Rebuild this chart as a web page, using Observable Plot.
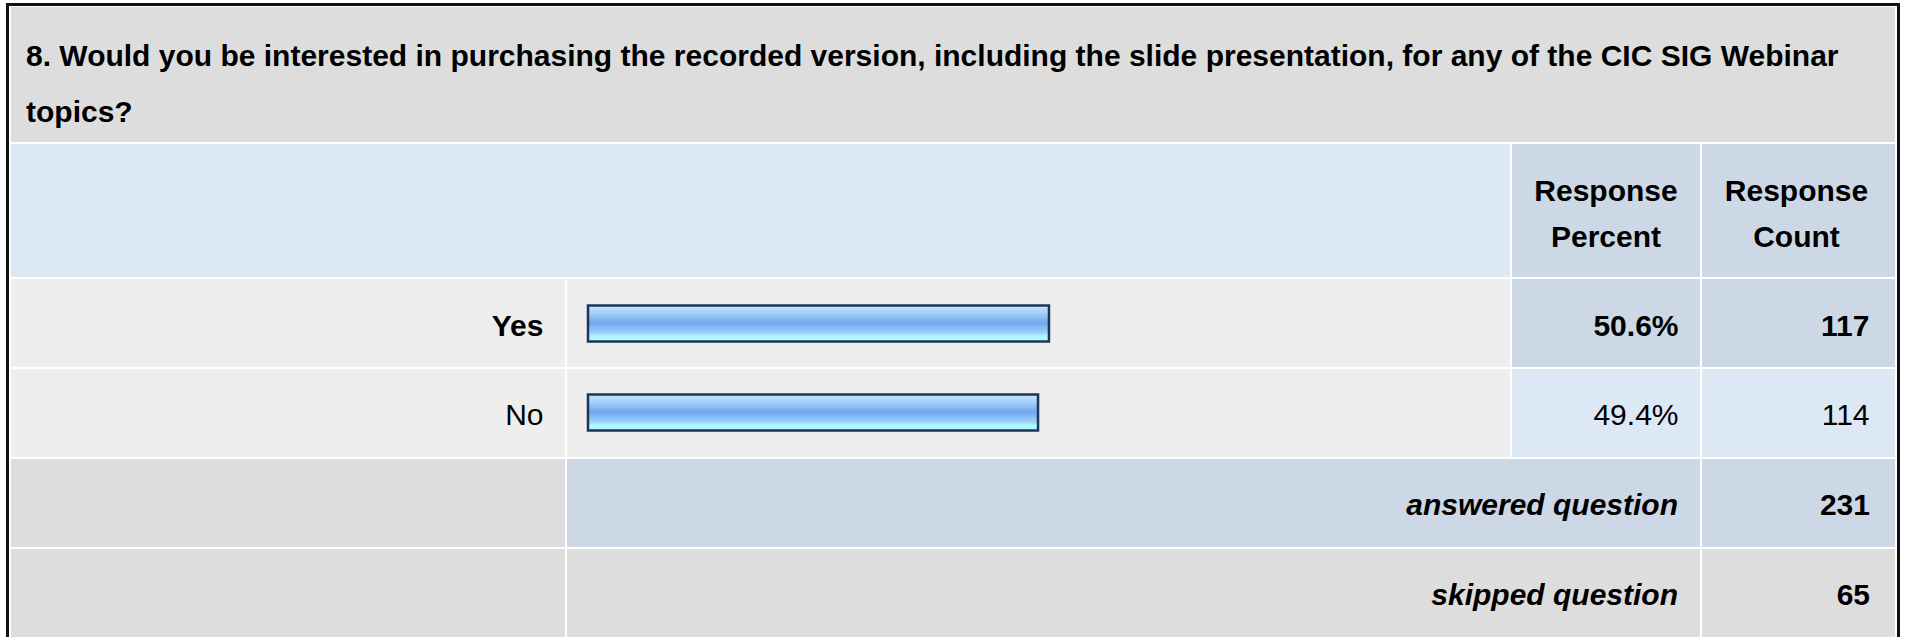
<!DOCTYPE html>
<html><head><meta charset="utf-8">
<script src="https://cdn.jsdelivr.net/npm/d3@7"></script>
<script src="https://cdn.jsdelivr.net/npm/@observablehq/plot@0.6"></script>
<style>
html,body{margin:0;padding:0;background:#fff;}
#root{position:relative;width:1907px;height:637px;overflow:hidden;font-family:"Liberation Sans",Arial,sans-serif;color:#000;}
.cell{position:absolute;box-sizing:border-box;}
.txt{position:absolute;font-size:30px;white-space:nowrap;}
.flex{display:flex;align-items:center;justify-content:flex-end;font-size:30px;white-space:nowrap;padding-top:3px;}
</style></head><body><div id="root"></div>
<script>
// ---- data ----
const questionTitle = "8. Would you be interested in purchasing the recorded version, including the slide presentation, for any of the CIC SIG Webinar topics?";
const columnHeaders = [["Response", "Percent"], ["Response", "Count"]];
const answers = ["Yes", "No"];
const percents = [50.6, 49.4];
const counts = [117, 114];
const summaryLabels = ["answered question", "skipped question"];
const summaryCounts = [231, 65];

// ---- layout ----
const GREY = "#dddddd", LIGHT = "#eeeeee", BLUE1 = "#dde8f5", BLUE2 = "#cdd8e6";
const root = document.getElementById("root");
function div(cls, x, y, w, h, bg, extra) {
  const d = document.createElement("div");
  d.className = cls;
  d.style.left = x + "px"; d.style.top = y + "px";
  if (w != null) d.style.width = w + "px";
  if (h != null) d.style.height = h + "px";
  if (bg) d.style.background = bg;
  if (extra) Object.assign(d.style, extra);
  root.appendChild(d);
  return d;
}
const RIGHT = 1895; // inner right edge of cells
// outer frame
div("cell", 6, 3, RIGHT + 5 - 6, 720, "#fff", {border: "3px solid #111"});
// title
div("cell", 11, 7, RIGHT - 11, 135, GREY);
const t = div("txt", 26, 28, 1862, null, null, {whiteSpace: "normal", lineHeight: "56px", fontWeight: "bold"});
t.textContent = questionTitle;
// header row
div("cell", 11, 144, 1499, 133, BLUE1);
const colX = [1512, 1702], colW = [188, RIGHT - 1702];
columnHeaders.forEach((h, i) => {
  div("cell", colX[i], 144, colW[i], 133, BLUE2);
  const d = div("txt", colX[i] - (i ? 2 : 0), 168, colW[i], null, null, {textAlign: "center", lineHeight: "46px", fontWeight: "bold"});
  d.innerHTML = h.join("<br>");
});
// answer rows backgrounds
const maxP = d3.max(percents);
answers.forEach((a, i) => {
  const y = 279 + i * 90;
  const top = percents[i] === maxP;
  div("cell", 11, y, 554, 88, LIGHT);
  div("cell", 567, y, 943, 88, LIGHT);
  div("cell", colX[0], y, colW[0], 88, top ? BLUE2 : BLUE1);
  div("cell", colX[1], y, colW[1], 88, top ? BLUE2 : BLUE1);
});
// summary rows
summaryLabels.forEach((lab, i) => {
  const y = 459 + i * 90;
  const bg = i === 0 ? BLUE2 : GREY;
  const h = i === summaryLabels.length - 1 ? 120 : 88;
  div("cell", 11, y, 554, h, GREY);
  div("cell", 567, y, 1133, h, bg);
  div("cell", colX[1], y, colW[1], h, bg);
  const m = div("cell flex", 567, y, 1133, 88, null, {paddingRight: "22px", fontWeight: "bold", fontStyle: "italic"});
  m.textContent = lab;
  const c = div("cell flex", colX[1], y, colW[1], 88, null, {paddingRight: "25px", fontWeight: "bold"});
  c.textContent = summaryCounts[i];
});

// ---- chart (bars + row texts) ----
const rows = answers.map((a, i) => ({answer: a, percent: percents[i], count: counts[i]}));
const isTop = d => d.percent === maxP;
const notTop = d => !isTop(d);
const FONT = "Liberation Sans, Arial, sans-serif";
const W = RIGHT - 11;
const txt = (filter, text, anchor, dx, weight) => Plot.text(rows, {filter, y: "answer", text, frameAnchor: anchor,
  textAnchor: "end", dx, dy: 2, fontSize: 30, fontWeight: weight, fill: "#000", fontFamily: FONT});
const pctText = d => d.percent.toFixed(1) + "%";
const cntText = d => String(d.count);
const chart = Plot.plot({
  width: W, height: 178,
  marginLeft: 577, marginRight: W - 1488, marginTop: 0, marginBottom: 0,
  x: {domain: [0, 100], axis: null},
  y: {domain: answers, axis: null, padding: 0},
  style: {background: "transparent", fontFamily: FONT, overflow: "visible"},
  marks: [
    Plot.barX(rows, {x: "percent", y: "answer", insetTop: 26.5, insetBottom: 26.5,
      fill: "url(#smBarGrad)", stroke: "#1d3658", strokeWidth: 2.5}),
    txt(isTop, "answer", "left", -45, "bold"),
    txt(notTop, "answer", "left", -45, "normal"),
    txt(isTop, pctText, "right", 179, "bold"),
    txt(notTop, pctText, "right", 179, "normal"),
    txt(isTop, cntText, "right", 370, "bold"),
    txt(notTop, cntText, "right", 370, "normal")
  ]
});
const ns = "http://www.w3.org/2000/svg";
const defs = document.createElementNS(ns, "defs");
const grad = document.createElementNS(ns, "linearGradient");
grad.setAttribute("id", "smBarGrad");
grad.setAttribute("x1", "0"); grad.setAttribute("y1", "0");
grad.setAttribute("x2", "0"); grad.setAttribute("y2", "1");
[[0, "#d2e9ff"], [0.12, "#b3d9fc"], [0.3, "#94c5f7"], [0.48, "#70a7ee"], [0.62, "#84bcf4"],
 [0.78, "#a0d4fb"], [0.84, "#aef7ff"], [1, "#b2fbff"]].forEach(([o, c]) => {
  const s = document.createElementNS(ns, "stop");
  s.setAttribute("offset", o); s.setAttribute("stop-color", c);
  grad.appendChild(s);
});
defs.appendChild(grad);
chart.insertBefore(defs, chart.firstChild);
Object.assign(chart.style, {position: "absolute", left: "11px", top: "279px", maxWidth: "none"});
root.appendChild(chart);
</script>
</body></html>
